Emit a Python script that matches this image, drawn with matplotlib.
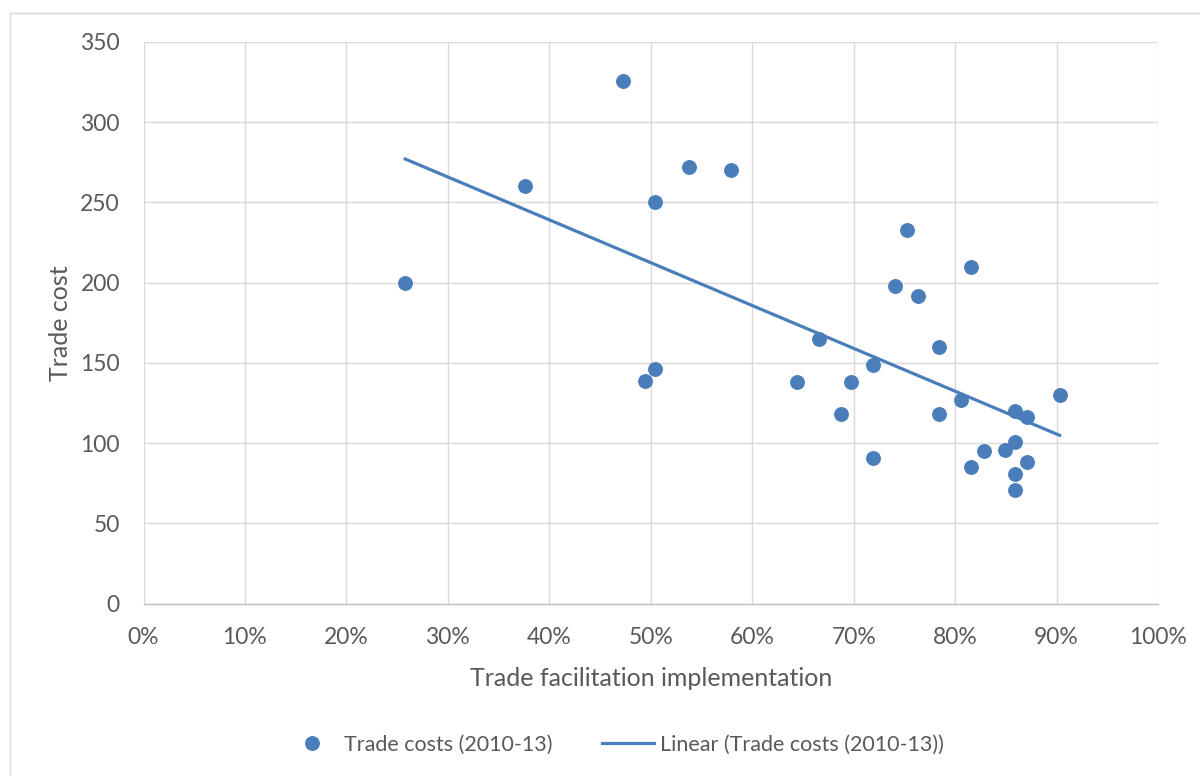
import numpy as np
import matplotlib
matplotlib.use("Agg")
import matplotlib.pyplot as plt
from matplotlib.lines import Line2D
from matplotlib.ticker import PercentFormatter, MultipleLocator

# trade facilitation implementation (%) and trade cost, 2010-13
facilitation = [25.8, 37.6, 47.3, 49.4, 50.4, 50.4, 53.8, 57.9, 64.4, 66.6,
                68.8, 69.7, 71.9, 71.9, 74.1, 75.3, 76.3, 78.4, 78.4, 80.6,
                81.6, 81.6, 82.8, 84.9, 85.9, 85.9, 85.9, 85.9, 87.1, 87.1, 90.3]
trade_cost = [200, 260, 326, 139, 250, 146, 272, 270, 138, 165,
              118, 138, 149, 91, 198, 233, 192, 160, 118, 127,
              210, 85, 95, 96, 120, 101, 81, 71, 116, 88, 130]

blue = '#4a7ebb'
grey_txt = '#595959'
plt.rcParams['font.family'] = ['Lato', 'DejaVu Sans']

fig = plt.figure(figsize=(12, 7.76), dpi=100)
ax = fig.add_axes([143.5/1200, 1 - 603.6/776, (1158 - 143.5)/1200, (603.6 - 42)/776])

x = np.array(facilitation)
y = np.array(trade_cost)
ax.plot(x, y, 'o', color=blue, markersize=9.7, label='Trade costs (2010-13)', zorder=3)

# linear trendline, like excel
k, b = np.polyfit(x, y, 1)
xt = np.array([x.min(), x.max()])
ax.plot(xt, k*xt + b, color=blue, linewidth=2.3, label='Linear (Trade costs (2010-13))', zorder=2)

ax.set_xlim(0, 100)
ax.set_ylim(0, 350)
ax.xaxis.set_major_locator(MultipleLocator(10))
ax.yaxis.set_major_locator(MultipleLocator(50))
ax.xaxis.set_major_formatter(PercentFormatter(decimals=0))
ax.grid(True, color='#d9d9d9', linewidth=1.0)
ax.set_axisbelow(True)
for side in ['top', 'right', 'left']:
    ax.spines[side].set_visible(False)
ax.spines['bottom'].set_color('#bfbfbf')
ax.spines['bottom'].set_linewidth(1.0)
ax.tick_params(length=0, labelsize=16.5, labelcolor=grey_txt)
ax.tick_params(axis='y', pad=17)
ax.tick_params(axis='x', pad=16.5)

ax.set_xlabel('Trade facilitation implementation', fontsize=18, color=grey_txt, labelpad=14)
ax.set_ylabel('Trade cost', fontsize=18, color=grey_txt, labelpad=6)

fig.legend(loc='center', bbox_to_anchor=(615/1200, 1 - 745/776), ncol=2, frameon=False,
           fontsize=15.5, labelcolor=grey_txt, handlelength=2.4, handletextpad=0.28,
           columnspacing=2.3)

# chart area border (left and top edges visible)
fig.add_artist(Line2D([10/1200, 10/1200], [0, 1 - 13/776], color='#d9d9d9', linewidth=1.0))
fig.add_artist(Line2D([10/1200, 1], [1 - 13/776, 1 - 13/776], color='#d9d9d9', linewidth=1.0))

fig.savefig('out.png', dpi=100)
